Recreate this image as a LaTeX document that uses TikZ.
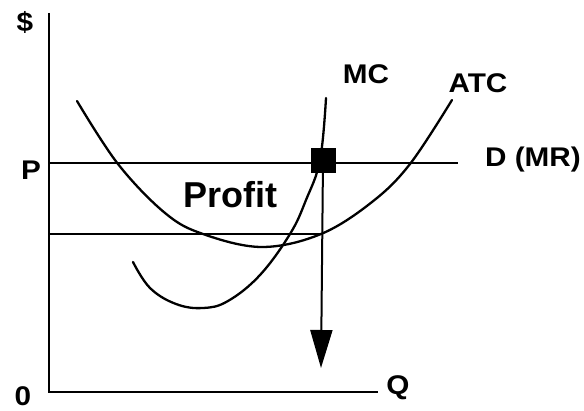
\documentclass[tikz,border=0pt]{standalone}
\usepackage{fontspec}
\setmainfont{Liberation Sans}
\usetikzlibrary{arrows.meta, calc}
\tikzset{
    axis/.style={line width=2.4pt},
    curve/.style={line width=2.3pt, line cap=round},
    level/.style={line width=2pt},
    lbl/.style={font=\bfseries\fontsize{27}{30}\selectfont, inner sep=0pt, xscale=1.1},
    big/.style={font=\bfseries\fontsize{36}{40}\selectfont, inner sep=0pt}
}

\begin{document}
\begin{tikzpicture}[x=1pt, y=-1pt]
    \useasboundingbox (0,0) rectangle (584,411);
    % axes
    \coordinate (o) at (49,392);
    \coordinate (ytop) at (49,13);
    \coordinate (xend) at (378,392);
    \draw[axis] (ytop) -- (o) -- (xend);
    \node[lbl] (dollar) at (25,22) {\$};
    \node[lbl] (zero) at (23,396) {0};
    \node[lbl] (qlbl) at (398,388) {Q};
    \node[lbl] (plbl) at (31,170) {P};

    % price line and lower level
    \coordinate (pleft) at (49,163);
    \coordinate (pright) at (458,163);
    \draw[level] (pleft) -- (pright);
    \node[lbl] (dmr) at (533,160) {D (MR)};
    \coordinate (cleft) at (49,234);
    \coordinate (cright) at (321,234);
    \draw[level] (cleft) -- (cright);

    % cost curves
    \draw[curve] plot[smooth, tension=0.6] coordinates {(77,101) (118,164) (165,213)
        (203,234) (262,247) (321,234) (372,202) (410,164) (452,100)};
    \node[lbl] (atc) at (478,83) {ATC};
    \draw[curve] plot[smooth, tension=0.65] coordinates {(133,262) (150,288)
        (176,304) (203,308) (228,301) (260,275) (290,234) (306,200) (320,160) (326,98)};
    \node[lbl] (mc) at (366,74) {MC};

    \node[big] (profit) at (230,195) {Profit};

    % output arrow
    \node[fill, minimum size=25pt, inner sep=0pt] (qstar) at (323,161) {};
    \coordinate (qend) at (321,368);
    \draw[level, -{Triangle[width=22pt, length=38pt]}] (qstar.center) -- (qend);
\end{tikzpicture}
\end{document}
